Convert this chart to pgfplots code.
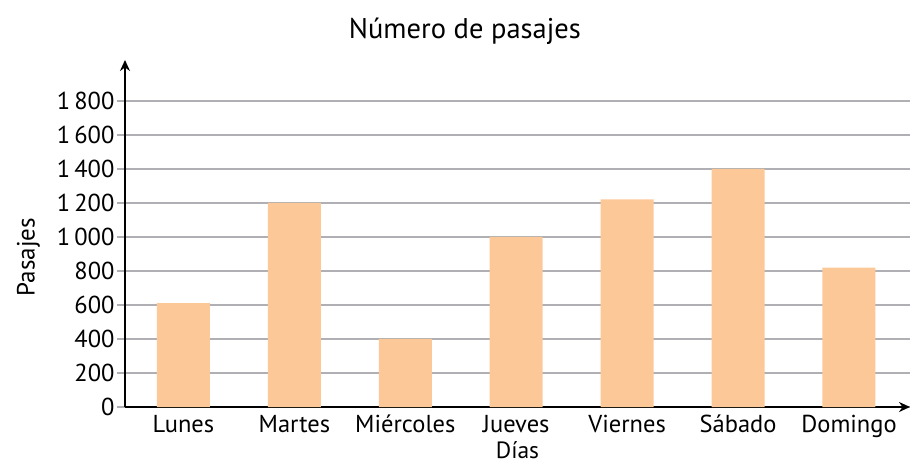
\documentclass[border=0pt]{standalone}
\usepackage{fontspec}
\setmainfont{PT Sans}
\usepackage{pgfplots}
\pgfplotsset{compat=1.18}
\usetikzlibrary{arrows.meta}
\definecolor{barc}{HTML}{FCC898}
\definecolor{gridc}{HTML}{B0B0B4}
\begin{document}
\begin{tikzpicture}
\useasboundingbox (-125pt,-59pt) rectangle (790pt,407pt);
\begin{axis}[
  scale only axis,
  width=785pt, height=347pt,
  xmin=-0.527, xmax=6.55,
  ymin=0, ymax=2040,
  axis lines=left,
  axis line style={line width=2pt, -{Stealth[length=11pt,width=10pt]}},
  ybar, bar width=53pt,
  xtick={0,1,2,3,4,5,6},
  xticklabels={Lunes,Martes,Miércoles,Jueves,Viernes,Sábado,Domingo},
  xtick style={draw=none},
  ytick={0,200,...,1800},
  ytick style={line width=1.8pt, gridc},
  tick align=outside,
  major tick length=8pt,
  ymajorgrids,
  grid style={gridc, line width=1.8pt},
  /pgf/number format/assume math mode=true,
  /pgf/number format/1000 sep={\,},
  ticklabel style={font=\fontsize{24.5}{29}\selectfont, text=black},
  yticklabel style={xshift=1pt},
  xticklabel style={yshift=2pt, inner ysep=2pt},
  title={Número de pasajes},
  title style={at={(axis description cs:0.433,1.065)}, anchor=center, font=\fontsize{28.5}{32}\selectfont},
  xlabel={Días},
  xlabel style={at={(axis description cs:0.5,-0.124)}, anchor=center, font=\fontsize{23.5}{28}\selectfont},
  ylabel={Pasajes},
  ylabel style={at={(axis description cs:-0.123,0.432)}, anchor=center, font=\fontsize{25}{30}\selectfont},
]
\addplot[fill=barc, draw=none] coordinates {(0,610) (1,1200) (2,400) (3,1000) (4,1220) (5,1400) (6,820)};
\end{axis}
\end{tikzpicture}
\end{document}
